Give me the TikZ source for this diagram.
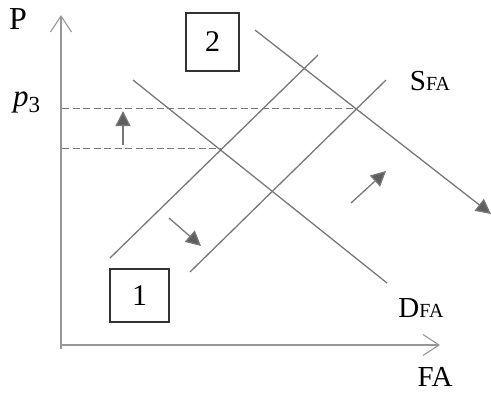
\documentclass[tikz,border=0pt]{standalone}
\usepackage{fontspec}
\setmainfont{Liberation Serif}
\usetikzlibrary{arrows.meta}
\definecolor{axisgray}{RGB}{150,150,150}
\definecolor{linegray}{RGB}{120,120,120}
\definecolor{headgray}{RGB}{95,95,95}
\definecolor{boxgray}{RGB}{50,50,50}
\tikzset{
  axisline/.style={draw=axisgray, line width=1.3pt, -{Straight Barb[length=16pt,width=21pt,line width=1.1pt]}},
  curveline/.style={draw=linegray, line width=1.3pt},
  guideline/.style={draw=linegray, line width=1pt, dash pattern=on 7pt off 3.5pt},
  shiftarrow/.style={draw=linegray, line width=1.3pt, -{Triangle[length=15pt,width=15pt,fill=headgray]}},
  numbox/.style={draw=boxgray, line width=1.4pt, inner sep=0pt, font=\fontsize{30}{34}\selectfont},
  lbl/.style={inner sep=0pt, font=\fontsize{29}{34}\selectfont},
}
\newcommand{\smallsub}[1]{{\fontsize{20}{24}\selectfont #1}}
\begin{document}
\begin{tikzpicture}[x=1pt,y=-1pt]
\useasboundingbox (0,0) rectangle (491,392);
% axis coordinates
\coordinate (O) at (61,345);
\coordinate (Ytop) at (61,15);
\coordinate (Xend) at (440,345);
\coordinate (Ybot) at (61,349);
\draw[axisline] (Ybot) -- (Ytop);
\draw[axisline] (O) -- (Xend);
% curves
\coordinate (D1a) at (133,80);
\coordinate (D1b) at (387,283);
\coordinate (D2a) at (255,30);
\coordinate (D2b) at (491,214);
\coordinate (S1a) at (110,258);
\coordinate (S1b) at (318,55);
\coordinate (S2a) at (190,272);
\coordinate (S2b) at (386,80);
\draw[curveline] (D1a) -- (D1b);
\draw[shiftarrow] (D2a) -- (D2b);
\draw[curveline] (S1a) -- (S1b);
\draw[curveline] (S2a) -- (S2b);
% dashed guides
\coordinate (g1a) at (62,108);
\coordinate (g1b) at (357,108);
\coordinate (g2a) at (62,148);
\coordinate (g2b) at (221,148);
\draw[guideline] (g1a) -- (g1b);
\draw[guideline] (g2a) -- (g2b);
% shift arrows
\coordinate (u1) at (123,145);
\coordinate (u2) at (123,111);
\coordinate (dr1) at (169,218);
\coordinate (dr2) at (201,246);
\coordinate (ur1) at (351,203);
\coordinate (ur2) at (386,171);
\draw[shiftarrow] (u1) -- (u2);
\draw[shiftarrow] (dr1) -- (dr2);
\draw[shiftarrow] (ur1) -- (ur2);
% boxes
\node[numbox, minimum width=53pt, minimum height=58pt] (box2) at (212.5,42) {2};
\node[numbox, minimum width=59pt, minimum height=53pt] (box1) at (139.5,295.5) {1};
% labels
\node[lbl, font=\fontsize{32}{36}\selectfont, anchor=base] (P) at (18,29) {P};
\node[lbl, anchor=base west] (p3) at (13,106) {{\fontsize{31}{34}\selectfont\itshape p}\raisebox{-6pt}{\fontsize{23}{26}\selectfont 3}};
\node[lbl, anchor=base] (SFA) at (430,90) {S\smallsub{FA}};
\node[lbl, anchor=base] (DFA) at (421,317) {D\smallsub{FA}};
\node[lbl, anchor=base] (FA) at (435,386) {FA};
\end{tikzpicture}
\end{document}
